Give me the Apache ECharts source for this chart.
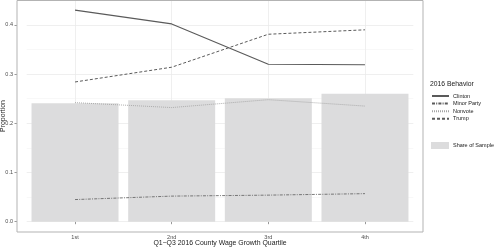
<!DOCTYPE html>
<html>
<head>
<meta charset="utf-8">
<script src="https://cdn.jsdelivr.net/npm/echarts@6/dist/echarts.min.js"></script>
<style>
  html, body { margin: 0; padding: 0; background: #fff; }
  #chart { width: 495px; height: 247px; }
</style>
</head>
<body>
<div id="chart"></div>
<script>
// quartiles on the x axis
const categories = ['1st', '2nd', '3rd', '4th']
// share of voters in each quartile (bars)
const shareOfSample = [0.241, 0.247, 0.251, 0.260]
// 2016 behaviour proportions (lines)
const clinton = [0.430, 0.402, 0.320, 0.319]
const minorParty = [0.045, 0.052, 0.054, 0.057]
const nonvote = [0.242, 0.232, 0.248, 0.235]
const trump = [0.284, 0.314, 0.381, 0.390]
// minor y grid lines
const yMinor = [0.05, 0.15, 0.25, 0.35]

const font = 'Liberation Sans, Arial, sans-serif'
const chart = echarts.init(document.getElementById('chart'))

const lineSeries = (name, data, color, type, width) => ({
  name,
  type: 'line',
  data,
  symbol: 'none',
  z: 3,
  lineStyle: { color, type, width },
  itemStyle: { color },
  emphasis: { disabled: true }
})

chart.setOption({
  animation: false,
  grid: {
    left: 26.7, right: 81.7, top: 0.3, bottom: 25.3,
    containLabel: false,
    outerBoundsMode: 'none'
  },
  title: {
    text: '2016 Behavior',
    left: 430,
    top: 81,
    padding: 0,
    textStyle: { fontFamily: font, fontSize: 6.8, fontWeight: 'normal', color: '#1a1a1a' }
  },
  xAxis: {
    type: 'category',
    data: categories,
    boundaryGap: true,
    offset: 10.3,
    axisLine: { show: false },
    axisTick: { show: true, alignWithLabel: true, length: 2.5, lineStyle: { color: '#999' } },
    axisLabel: { margin: 2.5, fontFamily: font, fontSize: 5.5, color: '#4d4d4d' },
    splitLine: { show: false },
    name: 'Q1\u2212Q3 2016 County Wage Growth Quartile',
    nameLocation: 'middle',
    nameMoveOverlap: false,
    nameGap: 7.5,
    nameTextStyle: { fontFamily: font, fontSize: 6.9, color: '#1a1a1a' }
  },
  yAxis: {
    type: 'value',
    min: 0,
    max: 0.45,
    interval: 0.1,
    offset: 9.7,
    axisLine: { show: false },
    axisTick: { show: true, length: 2.5, lineStyle: { color: '#999' } },
    axisLabel: {
      margin: 4,
      fontFamily: font,
      fontSize: 5.5,
      color: '#4d4d4d',
      showMaxLabel: false,
      formatter: v => v.toFixed(1)
    },
    splitLine: { show: true, lineStyle: { color: '#ebebeb', width: 0.8 } },
    name: 'Proportion',
    nameLocation: 'middle',
    nameMoveOverlap: false,
    nameGap: 10.5,
    nameTextStyle: { fontFamily: font, fontSize: 6.9, color: '#1a1a1a', padding: [0, 10, 0, 0] }
  },
  legend: [
    {
      data: ['Clinton', 'Minor Party', 'Nonvote', 'Trump'],
      orient: 'vertical',
      left: 431,
      top: 92.2,
      itemWidth: 17,
      itemHeight: 7.6,
      itemGap: 0,
      padding: 0,
      selectedMode: false,
      itemStyle: { color: 'rgba(0,0,0,0)', borderWidth: 0 },
      textStyle: { fontFamily: font, fontSize: 5.5, color: '#1a1a1a', padding: [0, 0, 0, -1], lineHeight: 7.6 }
    },
    {
      data: [{ name: 'Share of Sample', icon: 'rect' }],
      orient: 'vertical',
      left: 431,
      top: 142,
      itemWidth: 18,
      itemHeight: 7,
      padding: 0,
      selectedMode: false,
      textStyle: { fontFamily: font, fontSize: 5.5, color: '#1a1a1a', padding: [0, 0, 0, -1] }
    }
  ],
  graphic: [
    {
      type: 'rect',
      shape: { x: 17, y: 0.5, width: 406, height: 231.5 },
      style: { fill: 'none', stroke: '#b3b3b3', lineWidth: 1 },
      z: 10,
      silent: true
    }
  ],
  series: [
    {
      // grid lines for the panel
      type: 'line',
      data: [],
      silent: true,
      z: 0,
      markLine: {
        z: 0,
        silent: true,
        symbol: 'none',
        animation: false,
        label: { show: false },
        emphasis: { disabled: true },
        data: [
          ...yMinor.map(v => ({ yAxis: v, lineStyle: { color: '#f4f4f4', width: 0.6, type: 'solid' } })),
          ...categories.map(c => ({ xAxis: c, lineStyle: { color: '#ebebeb', width: 0.8, type: 'solid' } }))
        ]
      }
    },
    {
      name: 'Share of Sample',
      type: 'bar',
      data: shareOfSample,
      barWidth: '90%',
      z: 2,
      itemStyle: { color: '#dcdcdd' },
      emphasis: { disabled: true }
    },
    lineSeries('Clinton', clinton, '#5a5a5a', 'solid', 1.1),
    lineSeries('Minor Party', minorParty, '#5a5a5a', [3, 1.2, 1, 1.2], 0.8),
    lineSeries('Nonvote', nonvote, '#a5a5a5', [1, 1], 0.9),
    lineSeries('Trump', trump, '#5a5a5a', [3, 2], 1)
  ]
})
</script>
</body>
</html>
